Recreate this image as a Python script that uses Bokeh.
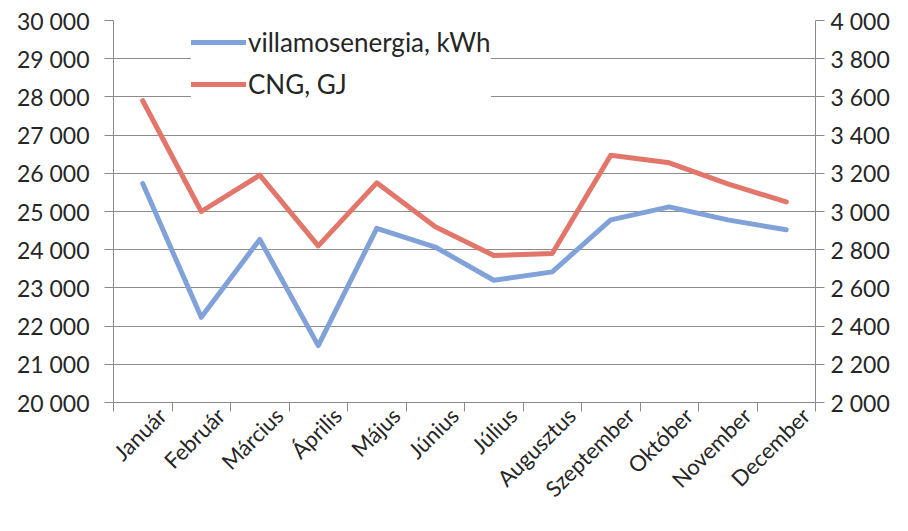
import math
from bokeh.plotting import figure
from bokeh.models import Range1d, LinearAxis, FixedTicker, Legend, LegendItem
from bokeh.embed import file_html
from bokeh.resources import INLINE

months = ["Január", "Február", "Március", "Április", "Május", "Június",
          "Július", "Augusztus", "Szeptember", "Október", "November", "December"]
villamos = [25730, 22230, 24270, 21490, 24560, 24070, 23200, 23420, 24780, 25120, 24780, 24520]
cng = [3580, 3000, 3190, 2820, 3150, 2920, 2770, 2780, 3295, 3255, 3145, 3050]

left_tick_values = [20000, 21000, 22000, 23000, 24000, 25000, 26000, 27000, 28000, 29000, 30000]
left_tick_labels = ["20 000", "21 000", "22 000", "23 000", "24 000", "25 000",
                    "26 000", "27 000", "28 000", "29 000", "30 000"]
right_tick_values = [2000, 2200, 2400, 2600, 2800, 3000, 3200, 3400, 3600, 3800, 4000]
right_tick_labels = ["2 000", "2 200", "2 400", "2 600", "2 800", "3 000",
                     "3 200", "3 400", "3 600", "3 800", "4 000"]

FONT = "Lato"
TXT = "#262626"
AX = "#8a8a8a"
FS = "23px"

xs = [i + 0.5 for i in range(len(months))]
label_pos = [i + 0.83 for i in range(len(months))]   # Excel-style anchoring of rotated labels
bounds = [float(i) for i in range(len(months) + 1)]

p = figure(width=892, height=515, x_range=Range1d(0, len(months)),
           y_range=Range1d(20000, 30000), output_backend="svg", toolbar_location=None,
           min_border_left=113, min_border_right=74, min_border_top=20, min_border_bottom=113)
p.extra_y_ranges = {"right": Range1d(2000, 4000)}
p.outline_line_color = None
p.background_fill_color = "white"
p.border_fill_color = "white"

p.xgrid.visible = False
p.ygrid.grid_line_color = "#8c8c8c"
p.ygrid.grid_line_width = 1
p.ygrid.ticker = FixedTicker(ticks=left_tick_values)

# left axis
ya = p.yaxis[0]
ya.ticker = FixedTicker(ticks=left_tick_values)
ya.major_label_overrides = {v: l for v, l in zip(left_tick_values, left_tick_labels)}
ya.minor_tick_line_color = None
ya.major_tick_in = 0
ya.major_tick_out = 9
ya.major_label_standoff = 15
ya.axis_line_color = AX
ya.major_tick_line_color = AX
ya.major_label_text_font = FONT
ya.major_label_text_font_size = FS
ya.major_label_text_color = TXT

# right axis
ra = LinearAxis(y_range_name="right", ticker=FixedTicker(ticks=right_tick_values))
ra.major_label_overrides = {v: l for v, l in zip(right_tick_values, right_tick_labels)}
ra.minor_tick_line_color = None
ra.major_tick_in = 0
ra.major_tick_out = 9
ra.major_label_standoff = 6
ra.axis_line_color = AX
ra.major_tick_line_color = AX
ra.major_label_text_font = FONT
ra.major_label_text_font_size = FS
ra.major_label_text_color = TXT
p.add_layout(ra, "right")

# bottom axis
xa = p.xaxis[0]
xa.ticker = FixedTicker(ticks=label_pos, minor_ticks=bounds)
xa.major_label_overrides = {x: m for x, m in zip(label_pos, months)}
xa.major_tick_in = 0
xa.major_tick_out = 0
xa.minor_tick_in = 0
xa.minor_tick_out = 9
xa.minor_tick_line_color = AX
xa.axis_line_color = AX
xa.major_label_orientation = math.pi / 4
xa.major_label_standoff = 0
xa.major_label_text_font = FONT
xa.major_label_text_font_size = "22px"
xa.major_label_text_color = TXT

r_blue = p.line(xs, villamos, line_color="#80a2d8", line_width=5,
                line_join="round", line_cap="round")
r_red = p.line(xs, cng, line_color="#e2766a", line_width=5, y_range_name="right",
               line_join="round", line_cap="round")

legend = Legend(items=[LegendItem(label="villamosenergia, kWh", renderers=[r_blue]),
                       LegendItem(label="CNG, GJ", renderers=[r_red])],
                location=(78, 302))
legend.glyph_width = 55
legend.glyph_height = 30
legend.label_height = 30
legend.spacing = 10
legend.padding = 5
legend.margin = 0
legend.label_standoff = 2
legend.label_width = 240
legend.border_line_color = None
legend.background_fill_color = "white"
legend.background_fill_alpha = 1
legend.label_text_font = FONT
legend.label_text_font_size = "26px"
legend.label_text_color = TXT
p.add_layout(legend)

open("out.html", "w").write(file_html(p, INLINE))
